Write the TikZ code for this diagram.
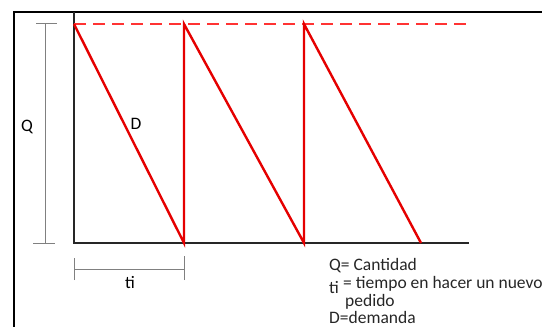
\documentclass[tikz,border=0pt]{standalone}
\usepackage{fontspec}
\setmainfont{Carlito}
\usetikzlibrary{positioning}

\begin{document}
\begin{tikzpicture}[
    x=1pt, y=-1pt,
    every node/.style={font=\fontsize{17.5}{19}\selectfont, inner sep=1pt},
    frm/.style={line width=1.5pt, draw=black},
    ax/.style={line width=2.4pt, draw=black!85},
    inv/.style={line width=2.4pt, draw=red!90!black, line join=miter},
    lvl/.style={line width=1.2pt, draw=red!80, dash pattern=on 12pt off 7pt},
    dim/.style={line width=1pt, draw=black!50},
    lgd/.style={anchor=west, text=black!85}
]
\useasboundingbox (0,0) rectangle (542,327);
% frame
\draw[frm] (14,327) -- (14,12) -- (542,12);
% axes
\coordinate (o) at (74,243);
\coordinate (ytop) at (74,12);
\coordinate (xend) at (469,243);
\draw[ax] (ytop) -- (o) -- (xend);
% level Q
\coordinate (q0) at (74,24);
\coordinate (q1) at (469,24);
\draw[lvl] (q0) -- (q1);
% sawtooth
\foreach \n/\x in {1/184, 2/304, 3/421}{
    \coordinate (b\n) at (\x,243);
    \coordinate (t\n) at (\x,24);
}
\draw[inv] (q0) -- (b1) -- (t1) -- (b2) -- (t2) -- (b3);
\node (dlbl) at (136,124) {D};
% dimension Q
\coordinate (qa) at (45,23);
\coordinate (qb) at (45,243);
\draw[dim] (qa) -- (qb);
\draw[dim] ([xshift=-9pt]qa) -- ([xshift=12pt]qa);
\draw[dim] ([xshift=-12pt]qb) -- ([xshift=10pt]qb);
\node (qlbl) at (27,127) {Q};
% dimension ti
\coordinate (ta) at (74,269);
\coordinate (tb) at (184,269);
\draw[dim] (ta) -- (tb);
\draw[dim] ([yshift=-11pt]ta) -- ([yshift=11pt]ta);
\draw[dim] ([yshift=-11pt]tb) -- ([yshift=13pt]tb);
\node (tlbl) at (130,283) {ti};
% legend
\node[lgd] (lq) at (328,266) {Q= Cantidad};
\node[lgd] (lt) at (328,288) {ti};
\node[lgd] (ltx) at (342,284) {= tiempo en hacer un nuevo};
\node[lgd] (lp) at (344,302) {pedido};
\node[lgd] (ld) at (328,317) {D=demanda};
\end{tikzpicture}
\end{document}
